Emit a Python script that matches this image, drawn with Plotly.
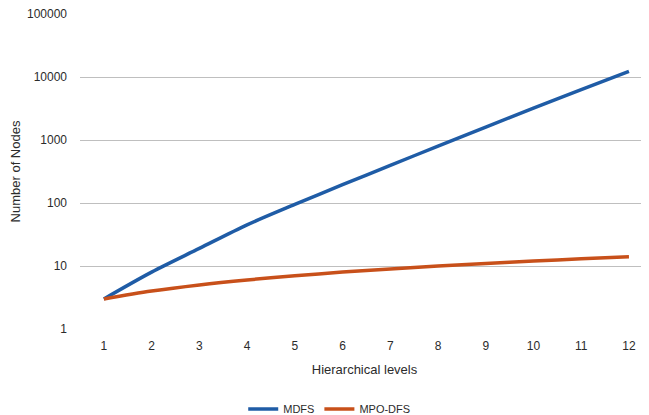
import plotly.graph_objects as go

levels = [1, 2, 3, 4, 5, 6, 7, 8, 9, 10, 11, 12]
mdfs = [3, 8, 19, 45, 95, 195, 395, 800, 1600, 3200, 6300, 12300]
mpo_dfs = [3, 4, 5, 6, 7, 8, 9, 10, 11, 12, 13, 14]
y_ticks = [1, 10, 100, 1000, 10000, 100000]
y_tick_labels = ["1", "10", "100", "1000", "10000", "100000"]

font_family = "Liberation Sans, Arial, sans-serif"
text_color = "#2b2b2b"

fig = go.Figure()
fig.add_trace(go.Scatter(
    x=levels, y=mdfs, name="MDFS", mode="lines",
    line=dict(color="#1f5ca6", width=3.5, shape="spline", smoothing=0.9),
))
fig.add_trace(go.Scatter(
    x=levels, y=mpo_dfs, name="MPO-DFS", mode="lines",
    line=dict(color="#c8501a", width=3.5, shape="spline", smoothing=0.9),
))

fig.update_layout(
    width=641, height=425,
    margin=dict(l=72, r=0, t=6, b=104),
    paper_bgcolor="white", plot_bgcolor="white",
    font=dict(family=font_family, size=12, color=text_color),
    showlegend=True,
    legend=dict(
        orientation="h", x=0.438, xanchor="center", y=-0.254, yanchor="middle",
        font=dict(size=11, color=text_color), itemwidth=30,
        tracegroupgap=0,
    ),
    xaxis=dict(
        range=[0.5, 12.42], tickmode="array", tickvals=levels,
        ticktext=[str(v) for v in levels], automargin=False,
        showgrid=False, zeroline=False, showline=False, ticks="",
        ticklabelstandoff=8,
        title=dict(text="Hierarchical levels", font=dict(size=13), standoff=12),
    ),
    yaxis=dict(
        type="log", range=[0, 5], tickmode="array", tickvals=y_ticks,
        ticktext=y_tick_labels, automargin=False, ticklabeloverflow="allow",
        showgrid=True, gridcolor="#bfbfbf", gridwidth=1,
        zeroline=False, showline=False, ticks="", ticklabelstandoff=12,
        title=dict(text="Number of Nodes", font=dict(size=13), standoff=8),
    ),
)

fig.write_html("out.html")
